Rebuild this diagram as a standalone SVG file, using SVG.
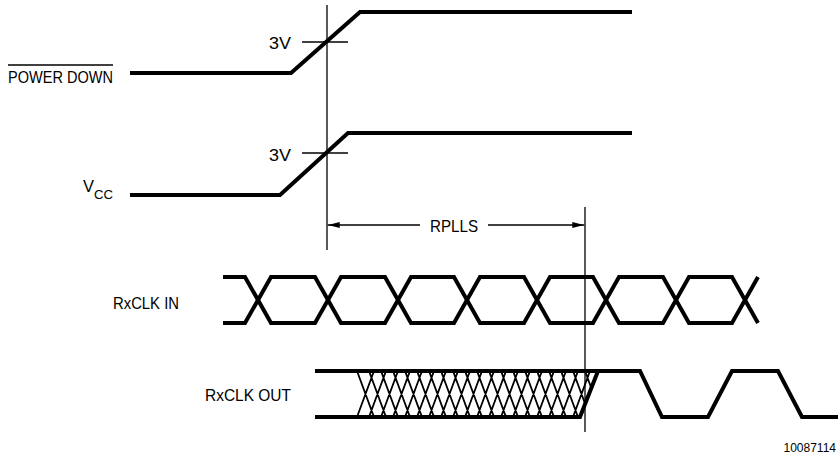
<svg xmlns="http://www.w3.org/2000/svg" width="838" height="460" viewBox="0 0 838 460">
<style>
.sig{fill:none;stroke:#000;stroke-width:4;stroke-linejoin:miter;stroke-linecap:butt}
.thin{fill:none;stroke:#000;stroke-width:1.3}
.hatch{fill:none;stroke:#000;stroke-width:1.8}
.lbl{font-family:"Liberation Sans","DejaVu Sans",sans-serif;font-size:17px;fill:#000}
.sub{font-family:"Liberation Sans","DejaVu Sans",sans-serif;font-size:13px;fill:#000}
.ref{font-family:"Liberation Sans",Arial,sans-serif;font-size:12px;fill:#000}
</style>
<defs>
<marker id="ah" viewBox="0 0 12 6" refX="12" refY="3" markerWidth="12" markerHeight="6" markerUnits="userSpaceOnUse" orient="auto-start-reverse">
<path d="M0 0 L12 3 L0 6 Z" fill="#000"/>
</marker>
<clipPath id="hclip"><polygon points="357,371 598,371 580,417 357,417"/></clipPath>
</defs>

<g id="powerdown">
<text class="lbl" x="8" y="83" textLength="105" lengthAdjust="spacingAndGlyphs">POWER DOWN</text>
<line class="thin" x1="8" y1="65" x2="113" y2="65"/>
<polyline class="sig" points="130,73 291,73 360,12 632,12"/>
<line class="thin" x1="302" y1="42" x2="348" y2="42"/>
<text class="lbl" x="269" y="49" textLength="22" lengthAdjust="spacingAndGlyphs">3V</text>
</g>

<g id="vcc">
<text class="lbl" x="83" y="192" textLength="11" lengthAdjust="spacingAndGlyphs">V</text>
<text class="sub" x="94" y="199" textLength="19" lengthAdjust="spacingAndGlyphs">CC</text>
<polyline class="sig" points="130,195 280,195 348,133 632,133"/>
<line class="thin" x1="302" y1="153" x2="348" y2="153"/>
<text class="lbl" x="269" y="161" textLength="22" lengthAdjust="spacingAndGlyphs">3V</text>
</g>

<g id="rxclkin">
<text class="lbl" x="113" y="309" textLength="66" lengthAdjust="spacingAndGlyphs">RxCLK IN</text>
<polyline class="sig" points="223,277 245,277 271,323 315,323 341,277 385,277 411,323 454,323 480,277 524,277 550,323 593,323 619,277 663,277 689,323 732,323 758,277"/>
<polyline class="sig" points="223,323 245,323 271,277 315,277 341,323 385,323 411,277 454,277 480,323 524,323 550,277 593,277 619,323 663,323 689,277 732,277 758,323"/>
</g>

<g id="rxclkout">
<text class="lbl" x="205" y="401" textLength="86" lengthAdjust="spacingAndGlyphs">RxCLK OUT</text>
<g clip-path="url(#hclip)">
<path class="hatch" d="M357 371 L374 417 M357 417 L374 371 M369 371 L386 417 M369 417 L386 371 M381 371 L398 417 M381 417 L398 371 M393 371 L410 417 M393 417 L410 371 M405 371 L422 417 M405 417 L422 371 M417 371 L434 417 M417 417 L434 371 M429 371 L446 417 M429 417 L446 371 M441 371 L458 417 M441 417 L458 371 M453 371 L470 417 M453 417 L470 371 M465 371 L482 417 M465 417 L482 371 M477 371 L494 417 M477 417 L494 371 M489 371 L506 417 M489 417 L506 371 M501 371 L518 417 M501 417 L518 371 M513 371 L530 417 M513 417 L530 371 M525 371 L542 417 M525 417 L542 371 M537 371 L554 417 M537 417 L554 371 M549 371 L566 417 M549 417 L566 371 M561 371 L578 417 M561 417 L578 371 M573 371 L590 417 M573 417 L590 371 M585 371 L602 417 M585 417 L602 371"/>
</g>
<polyline class="sig" points="315,371 640,371 662,417 708,417 732,371 778,371 802,417 838,417"/>
<polyline class="sig" points="315,417 580,417 598,371"/>
</g>

<g id="connectors">
<line class="thin" x1="327" y1="5" x2="327" y2="250"/>
<line class="thin" x1="585" y1="207" x2="585" y2="432"/>
<line class="thin" x1="420" y1="225" x2="327.7" y2="225" marker-end="url(#ah)"/>
<line class="thin" x1="488" y1="225" x2="584.3" y2="225" marker-end="url(#ah)"/>
<text class="lbl" x="430" y="232" textLength="48" lengthAdjust="spacingAndGlyphs">RPLLS</text>
</g>

<text class="ref" x="836" y="452" text-anchor="end">10087114</text>
</svg>
